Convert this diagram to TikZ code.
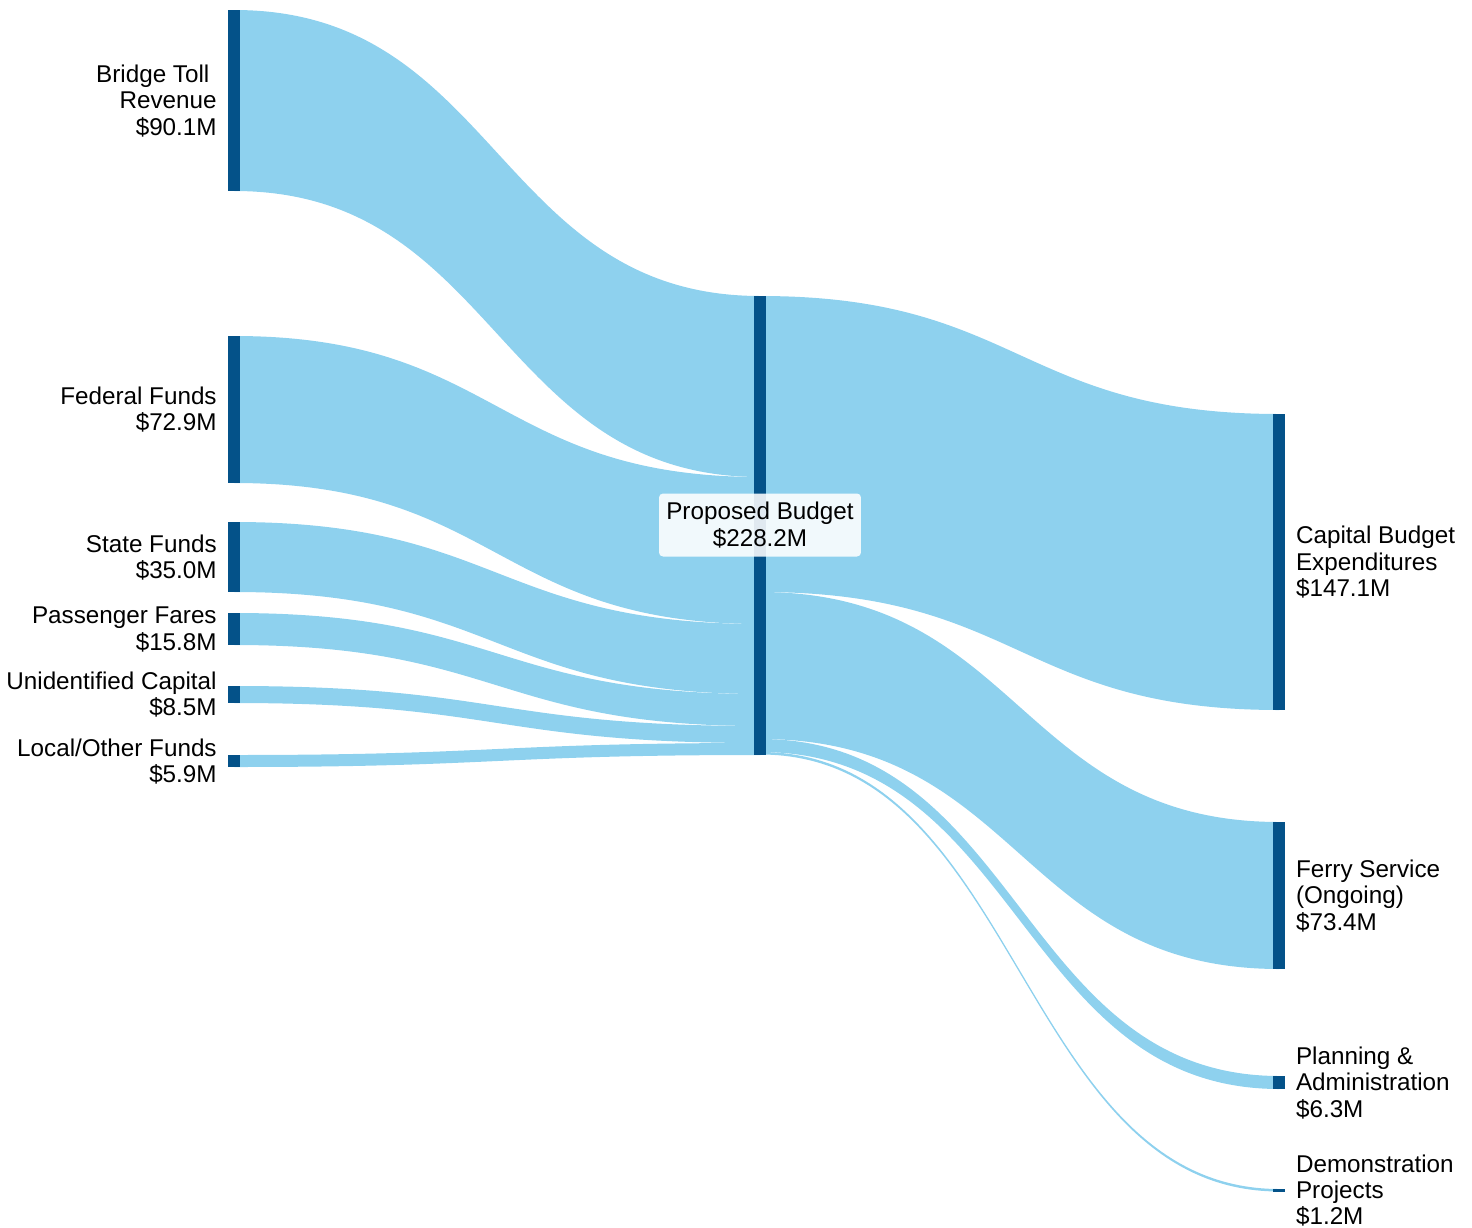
\documentclass[tikz,border=0pt]{standalone}
\usepackage{fontspec}
\setmainfont{Liberation Sans}
\usepackage{tikz}
\usetikzlibrary{calc}
\usetikzlibrary{positioning, backgrounds}
\definecolor{barblue}{HTML}{045289}
\definecolor{flowblue}{HTML}{8ED1EE}

% one band of the sankey: source, offset in source, target, offset in target, width
\newcommand\budgetflow[5]{%
  \fill[flowfill] let \p1=($(#1.north)+(0,#2)$), \p2=($(#3.north)+(0,#4)$),
    \p3=($(\p1)+(0,#5)$), \p4=($(\p2)+(0,#5)$), \p5=($(\p1)!0.5!(\p2)$) in
    (\p1) .. controls (\x5,\y1) and (\x5,\y2) .. (\p2) -- (\p4)
    .. controls (\x5,\y4) and (\x5,\y3) .. (\p3) -- cycle;}

\begin{document}
\begin{tikzpicture}[x=0.02cm, y=-0.02cm,
    bar/.style={fill=barblue, draw=none, minimum width=0.24cm, inner sep=0pt, anchor=north west},
    flowfill/.style={fill=flowblue},
    srclabel/.style={align=right, inner sep=0pt, font=\fontsize{13.8}{15}\selectfont},
    dstlabel/.style={align=left, inner sep=0pt, font=\fontsize{13.8}{15}\selectfont},
    budgetlabel/.style={fill=white, fill opacity=0.88, text opacity=1, rounded corners=0.08cm,
      minimum width=4.04cm, minimum height=1.26cm, align=center, inner sep=0pt,
      font=\fontsize{13.8}{15}\selectfont}]
\useasboundingbox (0,0) rectangle (1472,1228);
				% sources
				\node[bar, minimum height=3.62cm] (bridge) at (228,10) {};
				\node[bar, minimum height=2.94cm] (federal) at (228,336) {};
				\node[bar, minimum height=1.40cm] (state) at (228,522) {};
				\node[bar, minimum height=0.64cm] (fares) at (228,613) {};
				\node[bar, minimum height=0.34cm] (unident) at (228,686) {};
				\node[bar, minimum height=0.24cm] (local) at (228,755) {};
				% budget
				\node[bar, minimum height=9.18cm] (budget) at (754,296) {};
				% uses
				\node[bar, minimum height=5.92cm] (capital) at (1273,414) {};
				\node[bar, minimum height=2.94cm] (ferry) at (1273,822) {};
				\node[bar, minimum height=0.26cm] (planning) at (1273,1076) {};
				\node[bar, minimum height=0.05cm] (demo) at (1273,1189) {};
				
				\begin{scope}[on background layer]
				\budgetflow{bridge}{0}{budget}{0}{181}
				\budgetflow{federal}{0}{budget}{181}{147}
				\budgetflow{state}{0}{budget}{328}{70}
				\budgetflow{fares}{0}{budget}{398}{32}
				\budgetflow{unident}{0}{budget}{430}{17}
				\budgetflow{local}{0}{budget}{447}{12}
				\budgetflow{budget}{0}{capital}{0}{296}
				\budgetflow{budget}{296}{ferry}{0}{147}
				\budgetflow{budget}{443}{planning}{0}{13}
				\budgetflow{budget}{456}{demo}{0}{2.5}
				\end{scope}
				
				\node[srclabel, left=0.22cm of bridge] {Bridge Toll\kern0.3em\\Revenue\\\$90.1M};
				\node[srclabel, left=0.22cm of federal] {Federal Funds\\\$72.9M};
				\node[srclabel, left=0.22cm of state] {State Funds\\\$35.0M};
				\node[srclabel, left=0.22cm of fares] {Passenger Fares\\\$15.8M};
				\node[srclabel, left=0.22cm of unident] {Unidentified Capital\\\$8.5M};
				\node[srclabel, left=0.22cm of local] {Local/Other Funds\\\$5.9M};
				\node[budgetlabel] (budgetname) at (760,525) {Proposed Budget\\\$228.2M};
				\node[dstlabel, right=0.2cm of capital] {Capital Budget\\Expenditures\\\$147.1M};
				\node[dstlabel, right=0.2cm of ferry] {Ferry Service\\(Ongoing)\\\$73.4M};
				\node[dstlabel, right=0.2cm of planning] {Planning \&\\Administration\\\$6.3M};
				\node[dstlabel, right=0.2cm of demo] {Demonstration\\Projects\\\$1.2M};
\end{tikzpicture}
\end{document}
